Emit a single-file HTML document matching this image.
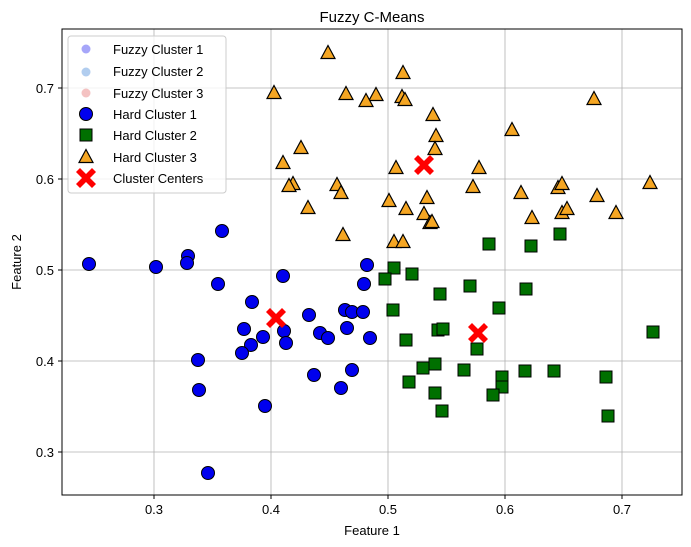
<!DOCTYPE html>
<html><head><style>body{margin:0;background:#fff}svg{display:block;font-family:"Liberation Sans","DejaVu Sans",sans-serif}</style></head><body>
<svg width="691" height="547" xmlns="http://www.w3.org/2000/svg">
<defs>
<circle id="c" r="6.5" fill="#0000ee" stroke="#000" stroke-width="1"/>
<rect id="s" x="-6" y="-6" width="12" height="12" fill="#007000" stroke="#000" stroke-width="1"/>
<path id="t" d="M0,-7.5 L7,5.5 L-7,5.5Z" fill="#f5a623" stroke="#000" stroke-width="1.2"/>
<path id="x" d="M-10,-6 L-6,-10 L0,-4 L6,-10 L10,-6 L4,0 L10,6 L6,10 L0,4 L-6,10 L-10,6 L-4,0Z" fill="#ff0000"/>
</defs>
<rect width="691" height="547" fill="#fff"/>
<g stroke="#b0b0b0" stroke-width="0.8">
<line x1="154" y1="29" x2="154" y2="495"/><line x1="271" y1="29" x2="271" y2="495"/><line x1="388" y1="29" x2="388" y2="495"/><line x1="505" y1="29" x2="505" y2="495"/><line x1="622" y1="29" x2="622" y2="495"/>
<line x1="62" y1="88" x2="682" y2="88"/><line x1="62" y1="179" x2="682" y2="179"/><line x1="62" y1="270" x2="682" y2="270"/><line x1="62" y1="361" x2="682" y2="361"/><line x1="62" y1="452" x2="682" y2="452"/>
</g>
<g>
<use href="#c" x="89" y="264"/><use href="#c" x="156" y="267"/><use href="#c" x="188" y="256"/><use href="#c" x="187" y="263"/><use href="#c" x="222" y="231"/><use href="#c" x="218" y="284"/><use href="#c" x="198" y="360"/><use href="#c" x="199" y="390"/><use href="#c" x="208" y="473"/>
<use href="#c" x="367" y="265"/><use href="#c" x="283" y="276"/><use href="#c" x="364" y="284"/><use href="#c" x="252" y="302"/><use href="#c" x="309" y="315"/><use href="#c" x="345" y="310"/><use href="#c" x="352" y="312"/><use href="#c" x="363" y="312"/><use href="#c" x="244" y="329"/><use href="#c" x="284" y="331"/><use href="#c" x="347" y="328"/><use href="#c" x="263" y="337"/><use href="#c" x="320" y="333"/><use href="#c" x="328" y="338"/><use href="#c" x="370" y="338"/><use href="#c" x="251" y="345"/><use href="#c" x="286" y="343"/><use href="#c" x="242" y="353"/><use href="#c" x="314" y="375"/><use href="#c" x="352" y="370"/><use href="#c" x="341" y="388"/><use href="#c" x="265" y="406"/>
</g>
<g>
<use href="#s" x="489" y="244"/><use href="#s" x="531" y="246"/><use href="#s" x="560" y="234"/><use href="#s" x="394" y="268"/><use href="#s" x="385" y="279"/><use href="#s" x="412" y="274"/><use href="#s" x="440" y="294"/><use href="#s" x="470" y="286"/><use href="#s" x="526" y="289"/><use href="#s" x="499" y="308"/><use href="#s" x="393" y="310"/><use href="#s" x="438" y="330"/><use href="#s" x="443" y="329"/><use href="#s" x="406" y="340"/><use href="#s" x="477" y="349"/><use href="#s" x="423" y="368"/><use href="#s" x="435" y="364"/><use href="#s" x="464" y="370"/><use href="#s" x="525" y="371"/><use href="#s" x="502" y="377"/><use href="#s" x="502" y="387"/><use href="#s" x="409" y="382"/><use href="#s" x="493" y="395"/><use href="#s" x="435" y="393"/><use href="#s" x="442" y="411"/><use href="#s" x="653" y="332"/><use href="#s" x="606" y="377"/><use href="#s" x="608" y="416"/><use href="#s" x="554" y="371"/>
</g>
<g>
<use href="#t" x="328" y="53"/><use href="#t" x="274" y="93"/><use href="#t" x="346" y="94"/><use href="#t" x="376" y="95"/><use href="#t" x="366" y="101"/><use href="#t" x="301" y="148"/><use href="#t" x="283" y="163"/><use href="#t" x="293" y="184"/><use href="#t" x="289" y="186"/><use href="#t" x="308" y="208"/><use href="#t" x="337" y="185"/><use href="#t" x="341" y="193"/><use href="#t" x="343" y="235"/>
<use href="#t" x="403" y="73"/><use href="#t" x="402" y="97"/><use href="#t" x="405" y="100"/><use href="#t" x="433" y="115"/><use href="#t" x="436" y="136"/><use href="#t" x="435" y="149"/><use href="#t" x="396" y="168"/><use href="#t" x="479" y="168"/><use href="#t" x="473" y="187"/><use href="#t" x="512" y="130"/><use href="#t" x="594" y="99"/><use href="#t" x="389" y="201"/><use href="#t" x="427" y="198"/><use href="#t" x="406" y="209"/><use href="#t" x="424" y="214"/><use href="#t" x="430" y="223"/><use href="#t" x="432" y="222"/><use href="#t" x="394" y="242"/><use href="#t" x="403" y="242"/><use href="#t" x="521" y="193"/><use href="#t" x="558" y="188"/><use href="#t" x="562" y="184"/><use href="#t" x="597" y="196"/><use href="#t" x="650" y="183"/><use href="#t" x="532" y="218"/><use href="#t" x="562" y="213"/><use href="#t" x="567" y="209"/><use href="#t" x="616" y="213"/>
</g>
<use href="#x" x="276" y="318"/><use href="#x" x="424" y="165"/><use href="#x" x="478" y="333"/>
<rect x="62" y="29" width="620" height="466" fill="none" stroke="#000" stroke-width="1"/>
<g stroke="#000"><line x1="154" y1="495" x2="154" y2="499"/><line x1="271" y1="495" x2="271" y2="499"/><line x1="388" y1="495" x2="388" y2="499"/><line x1="505" y1="495" x2="505" y2="499"/><line x1="622" y1="495" x2="622" y2="499"/>
<line x1="58" y1="88" x2="62" y2="88"/><line x1="58" y1="179" x2="62" y2="179"/><line x1="58" y1="270" x2="62" y2="270"/><line x1="58" y1="361" x2="62" y2="361"/><line x1="58" y1="452" x2="62" y2="452"/></g>
<g font-size="13" fill="#000" text-anchor="middle"><text x="154" y="514">0.3</text><text x="271" y="514">0.4</text><text x="388" y="514">0.5</text><text x="505" y="514">0.6</text><text x="622" y="514">0.7</text></g>
<g font-size="13" fill="#000" text-anchor="end"><text x="54" y="93">0.7</text><text x="54" y="184">0.6</text><text x="54" y="275">0.5</text><text x="54" y="366">0.4</text><text x="54" y="457">0.3</text></g>
<text x="372" y="535" font-size="13" text-anchor="middle">Feature 1</text>
<text x="21" y="262" font-size="13" text-anchor="middle" transform="rotate(-90 21 262)">Feature 2</text>
<text x="372" y="22" font-size="15" text-anchor="middle">Fuzzy C-Means</text>
<rect x="68" y="36" width="158" height="157" rx="3" fill="#fff" fill-opacity="0.8" stroke="#ccc"/>
<circle cx="86" cy="49" r="4.5" fill="#0000ee" opacity="0.35"/>
<circle cx="86" cy="72" r="4.5" fill="#1f6fd0" opacity="0.35"/>
<circle cx="86" cy="93" r="4.5" fill="#e05050" opacity="0.35"/>
<use href="#c" x="86" y="114"/>
<use href="#s" x="86" y="135"/>
<use href="#t" x="86" y="157"/>
<use href="#x" x="86" y="178"/>
<g font-size="13" fill="#000"><text x="113" y="54">Fuzzy Cluster 1</text><text x="113" y="76">Fuzzy Cluster 2</text><text x="113" y="98">Fuzzy Cluster 3</text><text x="113" y="119">Hard Cluster 1</text><text x="113" y="140">Hard Cluster 2</text><text x="113" y="162">Hard Cluster 3</text><text x="113" y="183">Cluster Centers</text></g>
</svg>
</body></html>
